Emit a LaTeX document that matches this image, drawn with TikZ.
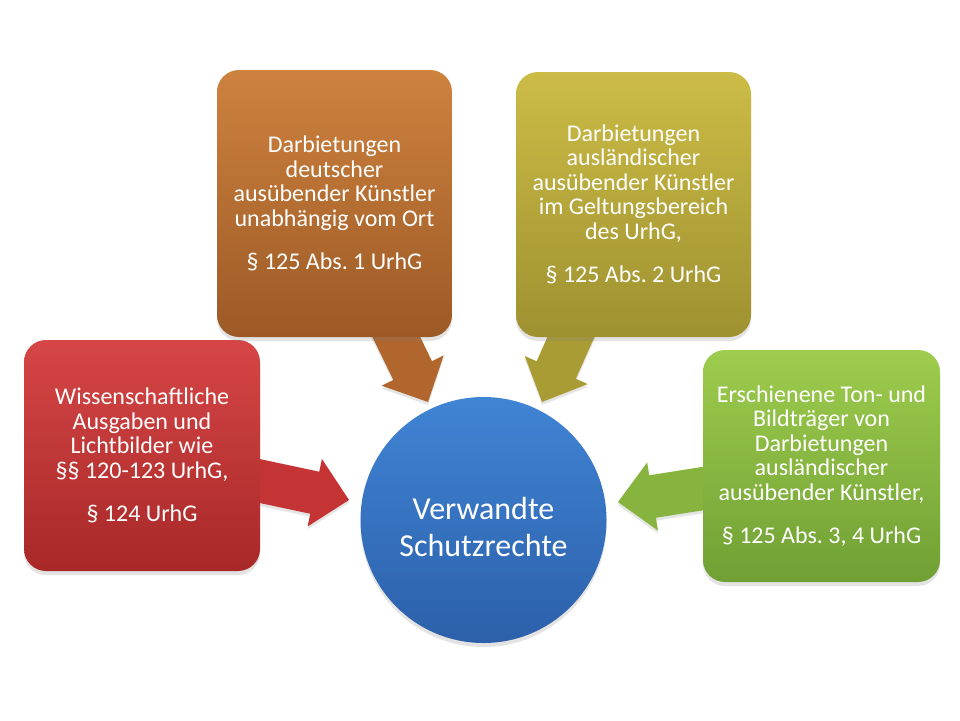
\documentclass[tikz,border=0pt]{standalone}
\usepackage{fontspec}
\setmainfont{Carlito}
\usetikzlibrary{shadows}
\frenchspacing
\definecolor{redT}{RGB}{214,70,70}
\definecolor{redB}{RGB}{168,40,40}
\definecolor{redA}{RGB}{196,52,52}
\definecolor{brnT}{RGB}{206,130,62}
\definecolor{brnB}{RGB}{156,90,38}
\definecolor{brnA}{RGB}{176,102,44}
\definecolor{olvT}{RGB}{204,188,70}
\definecolor{olvB}{RGB}{158,145,48}
\definecolor{olvA}{RGB}{170,156,52}
\definecolor{grnT}{RGB}{158,204,78}
\definecolor{grnB}{RGB}{112,160,52}
\definecolor{grnA}{RGB}{134,180,62}
\definecolor{bluT}{RGB}{64,132,212}
\definecolor{bluB}{RGB}{44,96,170}
\newcommand\blockarrow[3]{%
  \begin{scope}[shift={(#2)}, rotate=#3]
    \fill[#1, drop shadow={opacity=0.2, shadow xshift=0pt, shadow yshift=-3pt}]
      (0,0) -- (-35,34.5) -- (-35,21.5) -- (-130,21.5) -- (-130,-21.5)
      -- (-35,-21.5) -- (-35,-34.5) -- cycle;
  \end{scope}}
\begin{document}
\begin{tikzpicture}[x=1pt,y=-1pt,
  box/.style={rectangle, rounded corners=22pt, inner sep=0pt, text=white,
    align=center, font=\fontsize{24}{24.5}\selectfont\frenchspacing,
    drop shadow={opacity=0.22, shadow xshift=0pt, shadow yshift=-4pt}},
  hub/.style={circle, inner sep=0pt, minimum size=246pt,
    drop shadow={opacity=0.22, shadow xshift=0pt, shadow yshift=-4pt}},
  hubtext/.style={text=white, align=center, font=\fontsize{32}{37}\selectfont}
]
\fill[white] (0,0) rectangle (960,720);
\useasboundingbox (0,0) rectangle (960,720);

% arrow tips
\coordinate (tipR) at (349,500);
\coordinate (tipB) at (428,402);
\coordinate (tipO) at (542,402);
\coordinate (tipG) at (618,502);

\blockarrow{redA}{tipR}{-12}
\blockarrow{brnA}{tipB}{-64}
\blockarrow{olvA}{tipO}{-114}
\blockarrow{grnA}{tipG}{-171}

\node[box, minimum width=236pt, minimum height=231pt,
  top color=redT, bottom color=redB] (wiss) at (142,455.5)
  {Wissenschaftliche\\Ausgaben und\\Lichtbilder wie\\§§ 120-123 UrhG,\\[19pt]§ 124 UrhG};

\node[box, minimum width=235pt, minimum height=267pt,
  top color=brnT, bottom color=brnB] (deut) at (334.5,203.5)
  {Darbietungen\\deutscher\\ausübender Künstler\\unabhängig vom Ort\\[19pt]§ 125 Abs. 1 UrhG};

\node[box, minimum width=235pt, minimum height=265pt,
  top color=olvT, bottom color=olvB] (ausl) at (633.5,204.5)
  {Darbietungen\\ausländischer\\ausübender Künstler\\im Geltungsbereich\\des UrhG,\\[19pt]§ 125 Abs. 2 UrhG};

\node[box, minimum width=237pt, minimum height=232pt,
  top color=grnT, bottom color=grnB] (ton) at (821.5,466)
  {Erschienene Ton- und\\Bildträger von\\Darbietungen\\ausländischer\\ausübender Künstler,\\[19pt]§ 125 Abs. 3, 4 UrhG};

\node[hub, top color=bluT, bottom color=bluB] (vs) at (483.5,520) {};
\node[hubtext] (vstext) at (483.5,527) {Verwandte\\Schutzrechte};
\end{tikzpicture}
\end{document}
